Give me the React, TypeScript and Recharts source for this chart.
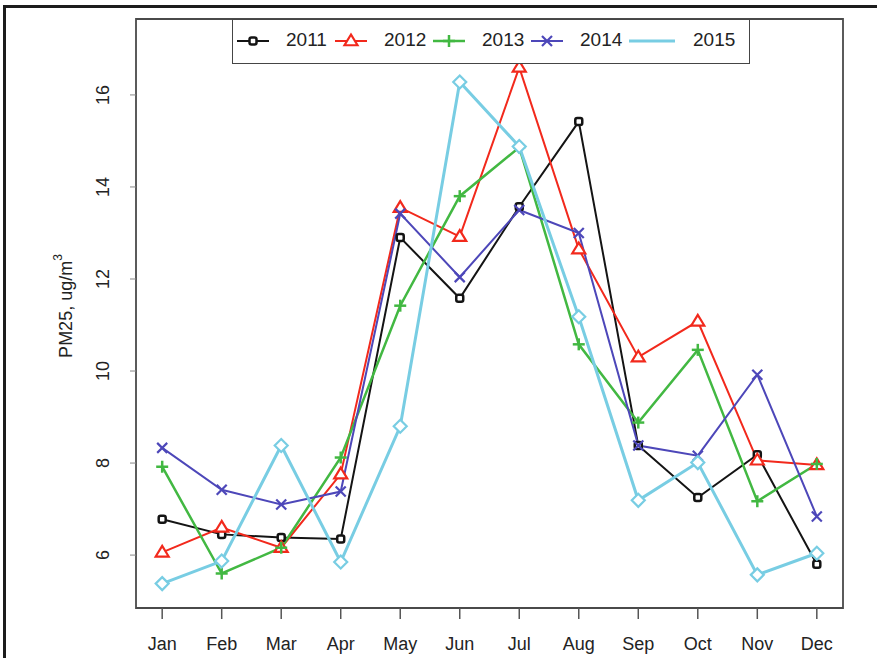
import * as React from "react";
import {
  Line,
  LineChart,
  ReferenceArea,
  XAxis,
  YAxis,
} from "recharts";

// monthly PM2.5 means
const MONTHS = ["Jan", "Feb", "Mar", "Apr", "May", "Jun", "Jul", "Aug", "Sep", "Oct", "Nov", "Dec"];
const PM_2011 = [6.78, 6.45, 6.38, 6.35, 12.9, 11.58, 13.57, 15.42, 8.38, 7.25, 8.18, 5.8];
const PM_2012 = [6.06, 6.6, 6.16, 7.76, 13.55, 12.92, 16.6, 12.65, 10.3, 11.08, 8.06, 7.96];
const PM_2013 = [7.92, 5.6, 6.16, 8.12, 11.42, 13.8, 14.86, 10.58, 8.88, 10.46, 7.17, 7.98];
const PM_2014 = [8.33, 7.42, 7.1, 7.38, 13.42, 12.04, 13.5, 13.0, 8.38, 8.16, 9.92, 6.84];
const PM_2015 = [5.38, 5.87, 8.38, 5.85, 8.8, 16.28, 14.88, 11.18, 7.19, 8.01, 5.57, 6.04];
const Y_TICKS = [6, 8, 10, 12, 14, 16];
const MONTH_TICKS = [1, 2, 3, 4, 5, 6, 7, 8, 9, 10, 11, 12];

type Shape = "square" | "triangle" | "plus" | "cross" | "diamond";

const SERIES: { key: string; name: string; color: string; width: number; shape: Shape }[] = [
  { key: "y2011", name: "2011", color: "#141414", width: 2, shape: "square" },
  { key: "y2012", name: "2012", color: "#f2291c", width: 2, shape: "triangle" },
  { key: "y2013", name: "2013", color: "#42b842", width: 2.5, shape: "plus" },
  { key: "y2014", name: "2014", color: "#4d47b9", width: 2, shape: "cross" },
  { key: "y2015", name: "2015", color: "#78cde3", width: 3, shape: "diamond" },
];

const data = MONTHS.map((m, i) => ({
  idx: i + 1,
  month: m,
  y2011: PM_2011[i],
  y2012: PM_2012[i],
  y2013: PM_2013[i],
  y2014: PM_2014[i],
  y2015: PM_2015[i],
}));

const FONT = "'Liberation Sans', Arial, sans-serif";
const TEXT = "#232323";

function Marker({ shape, cx, cy, color }: { shape: Shape; cx: number; cy: number; color: string }) {
  if (shape === "square") {
    return (
      <rect x={cx - 3.5} y={cy - 3.5} width={7} height={7} rx={2}
        fill="#fff" stroke={color} strokeWidth={2.5} />
    );
  }
  if (shape === "triangle") {
    const s = 6.5;
    return (
      <polygon
        points={`${cx},${cy - s} ${cx - s},${cy + s * 0.65} ${cx + s},${cy + s * 0.65}`}
        fill="#fff" stroke={color} strokeWidth={2.2} strokeLinejoin="miter"
      />
    );
  }
  if (shape === "plus") {
    return (
      <g stroke={color} strokeWidth={2.5}>
        <line x1={cx - 6} y1={cy} x2={cx + 6} y2={cy} />
        <line x1={cx} y1={cy - 6} x2={cx} y2={cy + 6} />
      </g>
    );
  }
  if (shape === "cross") {
    return (
      <g stroke={color} strokeWidth={2.2}>
        <line x1={cx - 5} y1={cy - 5} x2={cx + 5} y2={cy + 5} />
        <line x1={cx - 5} y1={cy + 5} x2={cx + 5} y2={cy - 5} />
      </g>
    );
  }
  return (
    <polygon
      points={`${cx},${cy - 6.5} ${cx + 6.5},${cy} ${cx},${cy + 6.5} ${cx - 6.5},${cy}`}
      fill="#fff" stroke={color} strokeWidth={2.2}
    />
  );
}

function XTick({ x, y, payload }: any) {
  return (
    <text x={x} y={y + 31} textAnchor="middle" fontSize={18} fontFamily={FONT} fill={TEXT}>
      {MONTHS[payload.value - 1]}
    </text>
  );
}

function YTick({ x, y, payload }: any) {
  const lx = x - 27;
  return (
    <text x={lx} y={y} transform={`rotate(-90 ${lx} ${y})`} textAnchor="middle"
      dominantBaseline="central" fontSize={18} fontFamily={FONT} fill={TEXT}>
      {payload.value}
    </text>
  );
}

function YLabel() {
  return (
    <text x={66} y={306} transform="rotate(-90 66 306)" textAnchor="middle"
      dominantBaseline="central" fontSize={18} fontFamily={FONT} fill={TEXT}>
      PM25, ug/m
      <tspan fontSize={12} dy={-8}>3</tspan>
    </text>
  );
}

function LegendBox() {
  return (
    <div
      style={{
        position: "absolute",
        left: 232,
        top: 19,
        width: 518,
        height: 45,
        boxSizing: "border-box",
        border: "1.5px solid #454545",
        background: "#fff",
        fontFamily: FONT,
        fontSize: 19,
        color: TEXT,
      }}
    >
      {SERIES.map((s, i) => {
        const left = 4 + i * 98;
        const lineW = i === 4 ? 46 : 32;
        const textLeft = i === 4 ? left + 64 : left + 49;
        return (
          <React.Fragment key={s.key}>
            <svg style={{ position: "absolute", left, top: 11 }} width={lineW} height={20}>
              <line x1={0} y1={10} x2={lineW} y2={10} stroke={s.color} strokeWidth={s.width} />
              {s.shape !== "diamond" && <Marker shape={s.shape} cx={lineW / 2} cy={10} color={s.color} />}
            </svg>
            <span style={{ position: "absolute", left: textLeft, top: 9, lineHeight: "22px" }}>
              {s.name}
            </span>
          </React.Fragment>
        );
      })}
    </div>
  );
}

export default function App() {
  return (
    <div style={{ position: "absolute", left: 0, top: 0, width: 877, height: 658, background: "#fff", overflow: "hidden" }}>
      <div
        style={{
          position: "absolute",
          left: 3,
          top: 5,
          width: 880,
          height: 680,
          borderTop: "3px solid #1c1c1c",
          borderLeft: "3px solid #1c1c1c",
        }}
      />
      <LineChart
        width={877}
        height={658}
        data={data}
        margin={{ top: 19, right: 34, bottom: 0, left: 0 }}
        style={{ position: "absolute", left: 0, top: 0 }}
      >
        <XAxis
          type="number"
          dataKey="idx"
          domain={[0.56, 12.44]}
          ticks={MONTH_TICKS}
          allowDataOverflow
          height={50}
          axisLine={false}
          tickSize={11}
          tickMargin={0}
          tickLine={{ stroke: "#555", strokeWidth: 1.5 }}
          tick={<XTick />}
          interval={0}
        />
        <YAxis
          type="number"
          domain={[4.85, 17.65]}
          ticks={Y_TICKS}
          allowDataOverflow
          width={136}
          axisLine={false}
          tickSize={6}
          tickMargin={0}
          tickLine={{ stroke: "#888", strokeWidth: 1 }}
          tick={<YTick />}
          label={<YLabel />}
        />
        <ReferenceArea
          x1={0.56}
          x2={12.44}
          y1={4.85}
          y2={17.65}
          fill="none"
          stroke="#4a4a4a"
          strokeWidth={1.8}
          ifOverflow="visible"
        />
        {SERIES.map((s) => (
          <Line
            key={s.key}
            dataKey={s.key}
            name={s.name}
            stroke={s.color}
            strokeWidth={s.width}
            isAnimationActive={false}
            dot={(p: any) => (
              <Marker key={`${s.key}-${p.index}`} shape={s.shape} cx={p.cx} cy={p.cy} color={s.color} />
            )}
            activeDot={false}
          />
        ))}
      </LineChart>
      <LegendBox />
    </div>
  );
}
